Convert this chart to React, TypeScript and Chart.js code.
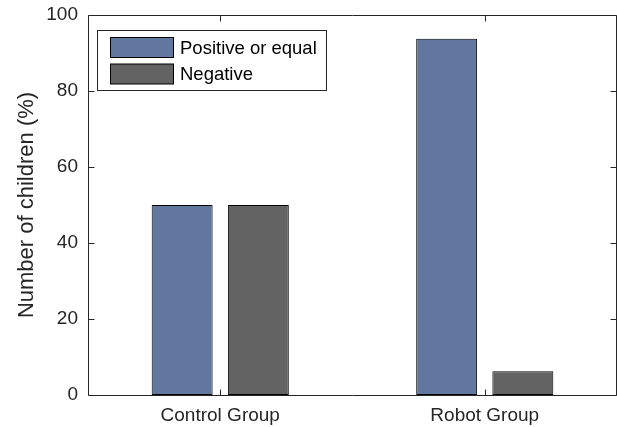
import React, { useEffect, useRef } from "react";
import { Chart, registerables } from "chart.js";

Chart.register(...registerables);

const categories = ["Control Group", "Robot Group"];
const seriesNames = ["Positive or equal", "Negative"];
const positiveValues = [50, 93.75];
const negativeValues = [50, 6.25];
const yTicks = [0, 20, 40, 60, 80, 100];
const yTitle = "Number of children (%)";
const seriesColors = ["#62779f", "#636363"];

const FONT = "'Liberation Sans', Arial, Helvetica, sans-serif";
const AXIS_COLOR = "#262626";

const boxPlugin = {
  id: "matlabBox",
  afterDatasetsDraw(chart: any) {
    const { ctx, chartArea: a, scales } = chart;
    ctx.save();
    ctx.strokeStyle = AXIS_COLOR;
    ctx.lineWidth = 1;
    const l = Math.round(a.left) + 0.5;
    const r = Math.round(a.right) - 0.5;
    const t = Math.round(a.top) + 0.5;
    const b = Math.round(a.bottom) + 0.5;
    ctx.beginPath();
    ctx.rect(l, t, r - l, b - t);
    for (const v of yTicks) {
      const y = Math.round(scales.y.getPixelForValue(v)) + 0.5;
      ctx.moveTo(l, y);
      ctx.lineTo(l + 6, y);
      ctx.moveTo(r, y);
      ctx.lineTo(r - 6, y);
    }
    categories.forEach((_c, i) => {
      const x = Math.round(scales.x.getPixelForValue(i)) + 0.5;
      ctx.moveTo(x, b);
      ctx.lineTo(x, b - 6);
      ctx.moveTo(x, t);
      ctx.lineTo(x, t + 6);
    });
    ctx.stroke();
    ctx.restore();
  },
  afterDraw(chart: any) {
    const { ctx } = chart;
    ctx.save();
    ctx.fillStyle = "#ffffff";
    ctx.fillRect(97.5, 30.5, 229, 60);
    ctx.strokeStyle = AXIS_COLOR;
    ctx.lineWidth = 1;
    ctx.strokeRect(97.5, 30.5, 229, 60);
    const rows = [47.5, 74];
    chart.data.datasets.forEach((ds: any, i: number) => {
      const cy = rows[i];
      ctx.fillStyle = ds.backgroundColor;
      ctx.fillRect(110.5, cy - 10, 63, 20);
      ctx.strokeStyle = "#000000";
      ctx.strokeRect(110.5, cy - 10, 63, 20);
      ctx.fillStyle = "#000000";
      ctx.font = `18.5px ${FONT}`;
      ctx.textAlign = "left";
      ctx.textBaseline = "middle";
      ctx.fillText(ds.label, 180, cy + 1);
    });
    ctx.restore();
  },
};

export default function App() {
  const ref = useRef<HTMLCanvasElement | null>(null);

  useEffect(() => {
    document.body.style.margin = "0";
    const canvas = ref.current;
    if (!canvas) return;
    const chart = new Chart(canvas, {
      type: "bar",
      data: {
        labels: categories,
        datasets: [
          {
            label: seriesNames[0],
            data: positiveValues,
            backgroundColor: seriesColors[0],
            borderColor: "#000000",
            borderWidth: 1,
            borderSkipped: false,
            barPercentage: 0.8,
            categoryPercentage: 0.576,
          },
          {
            label: seriesNames[1],
            data: negativeValues,
            backgroundColor: seriesColors[1],
            borderColor: "#000000",
            borderWidth: 1,
            borderSkipped: false,
            barPercentage: 0.8,
            categoryPercentage: 0.576,
          },
        ],
      },
      options: {
        animation: false,
        responsive: false,
        layout: { autoPadding: false, padding: { top: 15, right: 0, bottom: 0, left: 0 } },
        plugins: {
          legend: { display: false },
          tooltip: { enabled: false },
        },
        scales: {
          x: {
            type: "category",
            offset: true,
            grid: { display: false, drawTicks: false },
            border: { display: false },
            ticks: {
              font: { family: FONT, size: 19 },
              color: AXIS_COLOR,
              padding: 9,
              maxRotation: 0,
            },
            afterFit: (s: any) => {
              s.height = 32;
              s.paddingLeft = 0;
              s.paddingRight = 0;
              s.paddingTop = 0;
              s.paddingBottom = 0;
            },
          },
          y: {
            min: 0,
            max: 100,
            grid: { display: false, drawTicks: false },
            border: { display: false },
            ticks: {
              stepSize: 20,
              font: { family: FONT, size: 19 },
              color: AXIS_COLOR,
              padding: 10,
            },
            title: {
              display: true,
              text: yTitle,
              font: { family: FONT, size: 22 },
              color: AXIS_COLOR,
              padding: { top: 14, bottom: 0 },
            },
            afterFit: (s: any) => {
              s.width = 88;
              s.paddingTop = 0;
              s.paddingBottom = 0;
              s.paddingLeft = 0;
              s.paddingRight = 0;
            },
          },
        },
      },
      plugins: [boxPlugin],
    });
    return () => chart.destroy();
  }, []);

  return (
    <div style={{ position: "fixed", left: 0, top: 0, width: 617, height: 427, background: "#fff" }}>
      <canvas ref={ref} width={617} height={427} />
    </div>
  );
}
